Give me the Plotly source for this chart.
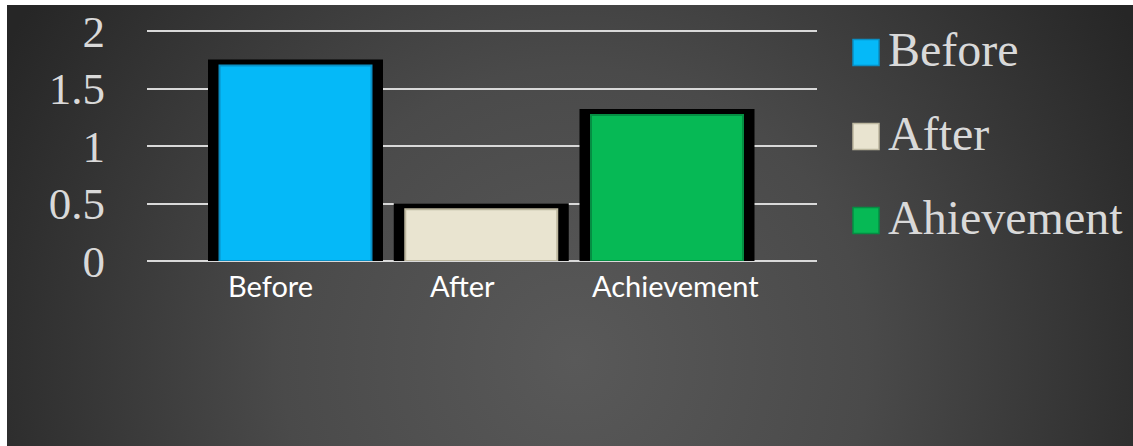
import base64
import plotly.graph_objects as go

# ---- data -------------------------------------------------------------
categories = ["Before", "After", "Achievement"]
series_names = ["Before", "After", "Ahievement"]
values = [1.7, 0.45, 1.27]
y_tick_values = [0, 0.5, 1, 1.5, 2]
y_tick_labels = ["0", "0.5", "1", "1.5", "2"]

# ---- styling ----------------------------------------------------------
fill_colors = ["#05B9F8", "#E9E4D0", "#06B955"]
edge_colors = ["#0A8FC4", "#BDB79F", "#058E43"]
label_shift_px = [-25, -19, 8]           # horizontal nudge of the category captions

W, H = 1133, 446
PLOT_L, PLOT_R, PLOT_B = 147, 817, 261
PX_PER_UNIT = 115                        # vertical pixels per 1.0 on the value axis
Y_TOP = 2.03                             # a little above 2 so the top gridline is kept
PLOT_T = PLOT_B - Y_TOP * PX_PER_UNIT
PX_PER_CAT = 185.75                      # pixels between neighbouring bar centres
FIRST_BAR_PX = 295.5
FRAME_PX, FILL_PX, FRAME_LINE = 163, 152, 12

x_range = [(PLOT_L - FIRST_BAR_PX) / PX_PER_CAT, (PLOT_R - FIRST_BAR_PX) / PX_PER_CAT]

# dark slide-style backdrop with a soft radial glow
bg_x0, bg_y0 = 7, 5
bg_w, bg_h = W - bg_x0, H - bg_y0
svg = (
    f'<svg xmlns="http://www.w3.org/2000/svg" width="{bg_w}" height="{bg_h}" '
    f'viewBox="0 0 {bg_w} {bg_h}" preserveAspectRatio="none">'
    '<defs><radialGradient id="g" gradientUnits="userSpaceOnUse" cx="568" cy="355" r="650">'
    '<stop offset="0" stop-color="#595959"/>'
    '<stop offset="0.45" stop-color="#4a4a4a"/>'
    '<stop offset="1" stop-color="#262626"/>'
    '</radialGradient></defs>'
    f'<rect width="{bg_w}" height="{bg_h}" fill="url(#g)"/></svg>'
)
bg_uri = "data:image/svg+xml;base64," + base64.b64encode(svg.encode()).decode()

fig = go.Figure()

# black frames behind each bar
for cat, val in zip(categories, values):
    fig.add_bar(
        x=[cat], y=[val], width=FRAME_PX / PX_PER_CAT,
        marker=dict(color="black", line=dict(color="black", width=FRAME_LINE)),
        showlegend=False, hoverinfo="skip",
    )

# coloured bar faces
for cat, val, name, fc, ec in zip(categories, values, series_names, fill_colors, edge_colors):
    fig.add_bar(
        x=[cat], y=[val], width=FILL_PX / PX_PER_CAT, name=name,
        marker=dict(color=fc, line=dict(color=ec, width=2)),
        showlegend=False,
    )

annotations = []
for cat, dx in zip(categories, label_shift_px):
    annotations.append(dict(
        x=cat, y=0, xref="x", yref="y", xanchor="center", yanchor="top",
        xshift=dx, yshift=-5, showarrow=False, text=cat,
        font=dict(family="Lato, 'Noto Sans', sans-serif", size=29, color="#ffffff"),
    ))

# legend drawn at full size: swatch + series name
LEG_SW_X0, LEG_SW_X1, LEG_TEXT_X = 853, 879, 886
LEG_FIRST_Y, LEG_STEP, LEG_SW = 52.5, 84, 26
shapes = []
for i, (name, fc, ec) in enumerate(zip(series_names, fill_colors, edge_colors)):
    cy = LEG_FIRST_Y + i * LEG_STEP
    shapes.append(dict(
        type="rect", xref="paper", yref="paper",
        x0=LEG_SW_X0 / W, x1=LEG_SW_X1 / W,
        y0=1 - (cy + LEG_SW / 2) / H, y1=1 - (cy - LEG_SW / 2) / H,
        fillcolor=fc, line=dict(color=ec, width=1.5),
    ))
    annotations.append(dict(
        x=LEG_TEXT_X / W, y=1 - (cy - 3) / H, xref="paper", yref="paper",
        xanchor="left", yanchor="middle", showarrow=False, text=name,
        font=dict(family="'Liberation Serif', 'Times New Roman', serif", size=48, color="#d9d9d9"),
    ))

fig.update_layout(
    width=W, height=H,
    margin=dict(l=0, r=0, t=0, b=0, autoexpand=False),
    paper_bgcolor="#ffffff",
    plot_bgcolor="rgba(0,0,0,0)",
    barmode="overlay",
    showlegend=False,
    images=[dict(
        source=bg_uri, xref="paper", yref="paper",
        x=bg_x0 / W, y=1 - bg_y0 / H, sizex=bg_w / W, sizey=bg_h / H,
        xanchor="left", yanchor="top", sizing="stretch", layer="below",
    )],
    shapes=shapes,
    annotations=annotations,
    xaxis=dict(
        type="category", range=x_range, domain=[PLOT_L / W, PLOT_R / W],
        showgrid=False, zeroline=False, showline=False, showticklabels=False, ticks="",
        automargin=False,
    ),
    yaxis=dict(
        range=[0, Y_TOP], domain=[1 - PLOT_B / H, 1 - PLOT_T / H],
        tickvals=y_tick_values, ticktext=y_tick_labels,
        showgrid=True, gridcolor="#d9d9d9", gridwidth=2,
        zeroline=True, zerolinecolor="#d9d9d9", zerolinewidth=2,
        showline=False, ticks="", ticklabelstandoff=41, automargin=False,
        tickfont=dict(family="'Liberation Serif', 'Times New Roman', serif", size=45, color="#d9d9d9"),
    ),
)

fig.write_html("out.html")
